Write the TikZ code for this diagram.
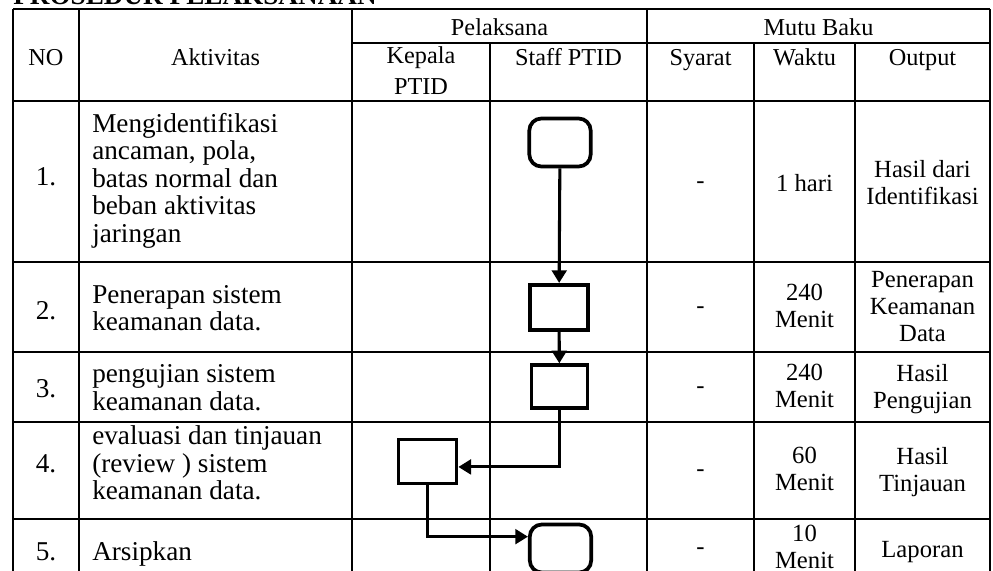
\documentclass[tikz,border=0pt]{standalone}
\usepackage{fontspec}
\setmainfont{Liberation Serif}
\usetikzlibrary{arrows.meta}
\tikzstyle{grid} = [line width=1.5pt]
\tikzstyle{term} = [rectangle, rounded corners=9pt, minimum width=46pt, minimum height=36pt, inner sep=0pt, draw=black, line width=2.8pt]
\tikzstyle{proc} = [rectangle, minimum width=44pt, minimum height=34pt, inner sep=0pt, draw=black, line width=2.8pt]
\tikzstyle{arrow} = [line width=2.3pt, -{Triangle[length=9.5pt, width=11pt]}]
\tikzstyle{txt} = [inner sep=0pt, execute at begin node=\strut, execute at end node=\strut]
\tikzstyle{head} = [txt, font=\fontsize{18.2}{23}\selectfont, align=center]
\tikzstyle{act} = [txt, font=\fontsize{20.4}{20.6}\selectfont, align=left, anchor=west]
\tikzstyle{num} = [txt, font=\fontsize{20.4}{20.6}\selectfont]
\tikzstyle{cell} = [txt, font=\fontsize{18.5}{20.25}\selectfont, align=center]

\begin{document}
\begin{tikzpicture}[x=0.75pt, y=-0.75pt]
\useasboundingbox (0,0) rectangle (993,571);
\clip (0,0) rectangle (993,571);

\node (title) [anchor=base west, inner sep=0pt, font=\bfseries\fontsize{20.4}{20.6}\selectfont] at (13,4) {PROSEDUR PELAKSANAAN};

% table lines
\draw [grid] (13,9) -- (990,9);
\draw [grid] (352,43) -- (990,43);
\foreach \y in {101,262,352,422,519}
  \draw [grid] (13,\y) -- (990,\y);
\foreach \x in {13,79,352,647,990}
  \draw [grid] (\x,9) -- (\x,600);
\foreach \x in {490,754,855}
  \draw [grid] (\x,43) -- (\x,600);

% header
\node (hPel) [head] at (499.5,29) {Pelaksana};
\node (hMutu) [head] at (818.5,29) {Mutu Baku};
\node (hNo) [head] at (46,59) {NO};
\node (hAkt) [head] at (215.5,59) {Aktivitas};
\node (hKepala) [head] at (421,75) {Kepala\\PTID};
\node (hStaff) [head] at (568.5,59) {Staff PTID};
\node (hSyarat) [head] at (700.5,59) {Syarat};
\node (hWaktu) [head] at (804.5,59) {Waktu};
\node (hOutput) [head] at (922.5,59) {Output};

% nomor
\node (no1) [num] at (46,180) {1.};
\node (no2) [num] at (46,314) {2.};
\node (no3) [num] at (46,392) {3.};
\node (no4) [num] at (46,467) {4.};
\node (no5) [num] at (46,555) {5.};

% aktivitas
\node (akt1) [act] at (92,182) {Mengidentifikasi\\ancaman, pola,\\batas normal dan\\beban aktivitas\\jaringan};
\node (akt2) [act] at (92,312) {Penerapan sistem\\keamanan data.};
\node (akt3) [act] at (92,391.5) {pengujian sistem\\keamanan data.};
\node (akt4) [act] at (92,467) {evaluasi dan tinjauan\\(review ) sistem\\keamanan data.};
\node (akt5) [act] at (92,555) {Arsipkan};

% mutu baku
\node (sya1) [cell] at (700.5,183) {-};
\node (sya2) [cell] at (700.5,308) {-};
\node (sya3) [cell] at (700.5,388) {-};
\node (sya4) [cell] at (700.5,471) {-};
\node (sya5) [cell] at (700.5,549) {-};
\node (wkt1) [cell] at (804.5,186) {1 hari};
\node (wkt2) [cell] at (804.5,310) {240\\Menit};
\node (wkt3) [cell] at (804.5,390) {240\\Menit};
\node (wkt4) [cell] at (804.5,473) {60\\Menit};
\node (wkt5) [cell] at (804.5,551) {10\\Menit};
\node (out1) [cell] at (922.5,186) {Hasil dari\\Identifikasi};
\node (out2) [cell] at (922.5,310) {Penerapan\\Keamanan\\Data};
\node (out3) [cell] at (922.5,390) {Hasil\\Pengujian};
\node (out4) [cell] at (922.5,473) {Hasil\\Tinjauan};
\node (out5) [cell] at (922.5,552) {Laporan};

% alur
\node (mulai) [term] at (560,142.5) {};
\node (terap) [proc] at (559,307.5) {};
\node (uji) [proc, minimum width=42pt, minimum height=32pt] at (559.5,386.5) {};
\node (evaluasi) [proc, minimum width=43.5pt, minimum height=33pt] at (427.5,461.5) {};
\node (arsip) [term] at (560.5,548.5) {};

\draw [arrow] (mulai) -- (terap);
\draw [arrow] (terap) -- (uji);
\draw [arrow] (uji.south) |- (evaluasi.-10);
\draw [arrow] (evaluasi.south) |- (arsip.160);

\end{tikzpicture}
\end{document}
